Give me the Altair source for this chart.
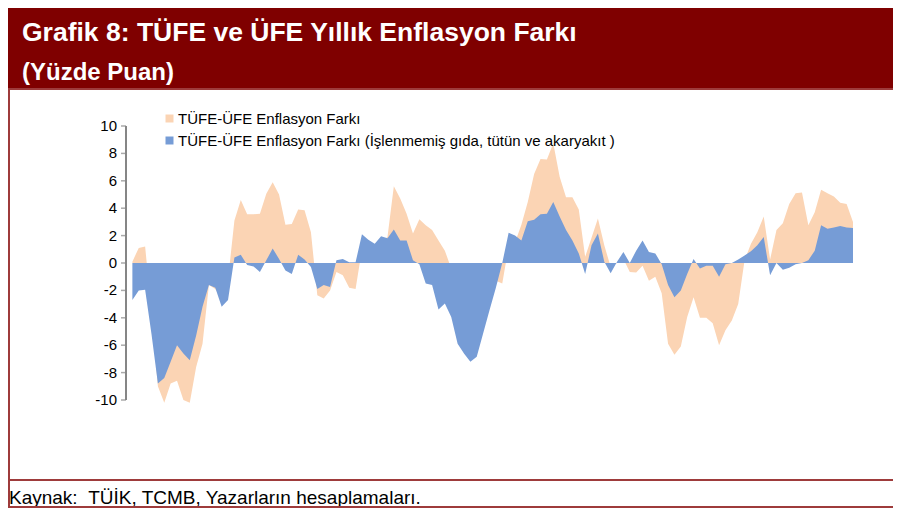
import altair as alt
import pandas as pd

# ---------------- data ----------------
tick_labels = ["12.03", "06.04", "12.04", "06.05", "12.05", "06.06", "12.06", "06.07",
               "12.07", "06.08", "12.08", "06.09", "12.09", "06.10", "12.10", "06.11",
               "12.11", "06.12", "12.12", "06.13"]
y_ticks = [-10, -8, -6, -4, -2, 0, 2, 4, 6, 8, 10]
y_tick_labels = ["-10", "-8", "-6", "-4", "-2", "0", "2", "4", "6", "8", "10"]

# month index: 0 = 12.03 (Dec 2003) ... 114 = 06.13 (Jun 2013)
months = list(range(1, 115))

total_gap = [
    0.1, 1.1, 1.2, -3.6, -9.0, -10.2, -8.8, -8.6, -10.0, -10.2,
    -7.6, -5.9, -1.6, -1.9, -2.6, -1.2, 3.1, 4.6, 3.55, 3.55,
    3.6, 5.05, 5.9, 5.0, 2.8, 2.85, 3.9, 3.85, 2.25, -2.35,
    -2.6, -2.0, -0.65, -0.9, -1.8, -1.9, 1.0, 1.3, 1.1, 1.5,
    1.9, 5.6, 4.7, 3.6, 2.15, 3.2, 2.75, 2.4, 1.65, 0.9,
    -0.4, -1.2, -2.0, -2.5, -2.6, -2.4, -2.0, -1.3, -1.5, 1.2,
    1.5, 2.8, 4.45, 6.5, 7.6, 7.55, 8.75, 6.3, 4.8, 4.8,
    3.9, 0.45, 1.85, 3.25, 1.3, -0.3, 0.0, 0.3, -0.65, -0.7,
    -0.2, -1.3, -1.0, -2.2, -5.9, -6.7, -6.1, -3.95, -2.5, -4.0,
    -4.0, -4.4, -6.0, -4.9, -4.2, -3.0, 0.2, 1.4, 2.25, 3.4,
    0.25, 2.4, 2.9, 4.3, 5.1, 5.15, 2.75, 3.7, 5.35, 5.1,
    4.85, 4.4, 4.3, 3.0,
]

core_gap = [
    -2.7, -2.0, -1.95, -5.2, -8.8, -8.4, -7.2, -6.0, -6.6, -7.1,
    -5.3, -3.2, -1.6, -1.8, -3.2, -2.7, 0.4, 0.6, -0.15, -0.25,
    -0.65, 0.2, 1.05, 0.3, -0.55, -0.8, 0.6, 0.25, -0.3, -1.9,
    -1.6, -1.75, 0.2, 0.3, 0.05, 0.05, 2.1, 1.7, 1.4, 1.95,
    1.8, 2.45, 1.65, 1.65, 0.2, -0.1, -1.5, -1.6, -3.4, -2.95,
    -3.95, -5.9, -6.6, -7.2, -6.85, -5.15, -3.45, -1.8, 0.0, 2.2,
    2.0, 1.65, 3.05, 3.15, 3.55, 3.6, 4.45, 3.4, 2.4, 1.65,
    0.7, -0.8, 1.3, 2.15, 0.1, -0.75, 0.1, 0.8, 0.0, 0.9,
    1.65, 0.8, 0.7, -0.1, -1.6, -2.5, -2.0, -0.8, 0.3, -0.4,
    -0.2, -0.2, -1.0, -0.1, 0.0, 0.25, 0.55, 0.85, 1.3, 1.9,
    -0.9, 0.0, -0.5, -0.35, -0.1, 0.0, 0.2, 0.9, 2.75, 2.5,
    2.6, 2.7, 2.6, 2.55,
]

series_names = ["TÜFE-ÜFE Enflasyon Farkı",
                "TÜFE-ÜFE Enflasyon Farkı (İşlenmemiş gıda, tütün ve akaryakıt )"]
series_colors = ["#FBD4B4", "#769CD6"]

title_line1 = "Grafik 8: TÜFE ve ÜFE Yıllık Enflasyon Farkı"
title_line2 = "(Yüzde Puan)"
source_text = "Kaynak:\u00a0\u00a0TÜİK, TCMB, Yazarların hesaplamaları."

# ---------------- layout ----------------
FONT = "Liberation Sans"
W, H = 727, 274
PAD = {"left": 118, "top": 118, "right": 40, "bottom": 108}
CANVAS_W = PAD["left"] + W + PAD["right"]
DARK_RED = "#7F0000"
LINE_RED = "#9E3B3B"
AXIS_GREY = "#868686"

df_total = pd.DataFrame({"m": months, "v": total_gap, "s": series_names[0]})
df_core = pd.DataFrame({"m": months, "v": core_gap, "s": series_names[1]})
df_yticks = pd.DataFrame({"v": y_ticks, "lbl": y_tick_labels, "m": [0] * len(y_ticks)})
one = pd.DataFrame({"k": [0]})

label_expr = "[" + ",".join(f"'{t}'" for t in tick_labels) + "][round(datum.value / 6)]"

x_scale = alt.Scale(domain=[0, 114], nice=False, zero=False)
y_scale = alt.Scale(domain=[-10, 10], nice=False, zero=False)

x_enc = alt.X(
    "m:Q", scale=x_scale,
    axis=alt.Axis(
        values=list(range(0, 115, 6)), labelExpr=label_expr, title=None,
        offset=-(H / 2), labelAngle=270, labelPadding=141, tickSize=5,
        domain=True, ticks=True, zindex=1,
        tickColor=AXIS_GREY, tickWidth=1.5, domainColor=AXIS_GREY, domainWidth=2,
        labelFont=FONT, labelFontSize=15, labelColor="black",
        labelOverlap=False, labelFlush=False, labelBound=False, grid=False,
    ),
)
y_enc = alt.Y("v:Q", stack=None, scale=y_scale, axis=None)
color_enc = alt.Color(
    "s:N",
    scale=alt.Scale(domain=series_names, range=series_colors),
    legend=alt.Legend(
        orient="none", legendX=36, legendY=-15, title=None, symbolType="square",
        symbolSize=64, symbolStrokeWidth=0, labelFont=FONT, labelFontSize=15,
        labelColor="black", labelLimit=700, labelOffset=1, rowPadding=6, padding=0,
    ),
)

area_total = alt.Chart(df_total).mark_area(interpolate="linear").encode(
    x=x_enc, y=y_enc, color=color_enc)
area_core = alt.Chart(df_core).mark_area(interpolate="linear").encode(
    x=x_enc, y=y_enc, color=color_enc)

# y-axis built from the tick table, through the x and y scales
y_labels = alt.Chart(df_yticks).mark_text(
    align="right", baseline="middle", font=FONT, fontSize=15, color="black", dx=-9
).encode(x=x_enc, y=y_enc, text="lbl:N")
y_line = alt.Chart(df_yticks).mark_rule(color=AXIS_GREY, strokeWidth=2).encode(
    x=alt.X("min(m):Q", scale=x_scale, axis=None),
    y=alt.Y("min(v):Q", scale=y_scale, axis=None),
    y2="max(v):Q")
y_tick_marks = alt.Chart(df_yticks).mark_tick(
    color=AXIS_GREY, orient="horizontal", size=5, thickness=1.5, xOffset=-2.5
).encode(x=x_enc, y=y_enc)

header = alt.Chart(one).mark_rect(color=DARK_RED).encode(
    x=alt.value(-PAD["left"]), x2=alt.value(CANVAS_W - PAD["left"]),
    y=alt.value(-PAD["top"]), y2=alt.value(-38))
header_line = alt.Chart(one).mark_rule(color=LINE_RED, strokeWidth=2).encode(
    x=alt.value(-PAD["left"]), x2=alt.value(CANVAS_W - PAD["left"]), y=alt.value(-37))
left_border = alt.Chart(one).mark_rule(color=LINE_RED, strokeWidth=2).encode(
    x=alt.value(-PAD["left"] + 1), y=alt.value(-38), y2=alt.value(382))
t1 = alt.Chart(one).mark_text(align="left", baseline="middle", font=FONT, fontSize=26.5,
                              fontWeight="bold", color="white").encode(
    x=alt.value(-104), y=alt.value(-93), text=alt.value(title_line1))
t2 = alt.Chart(one).mark_text(align="left", baseline="middle", font=FONT, fontSize=24,
                              fontWeight="bold", color="white").encode(
    x=alt.value(-104), y=alt.value(-53), text=alt.value(title_line2))
foot_line = alt.Chart(one).mark_rule(color=LINE_RED, strokeWidth=2).encode(
    x=alt.value(-PAD["left"]), x2=alt.value(CANVAS_W - PAD["left"]), y=alt.value(354))
foot_text = alt.Chart(one).mark_text(align="left", baseline="middle", font=FONT,
                                     fontSize=19, color="black").encode(
    x=alt.value(-117), y=alt.value(372), text=alt.value(source_text))
bottom_line = alt.Chart(one).mark_rule(color=LINE_RED, strokeWidth=2).encode(
    x=alt.value(-PAD["left"]), x2=alt.value(CANVAS_W - PAD["left"]), y=alt.value(381))

chart = alt.layer(
    header, header_line, left_border, t1, t2, y_labels, area_total, area_core,
    y_line, y_tick_marks, foot_line, foot_text, bottom_line
).properties(
    width=W, height=H, padding=PAD,
    autosize=alt.AutoSizeParams(type="none"),
    background="white",
).configure_view(stroke=None)

chart.save("out.html", embed_options={"renderer": "svg", "actions": False})
